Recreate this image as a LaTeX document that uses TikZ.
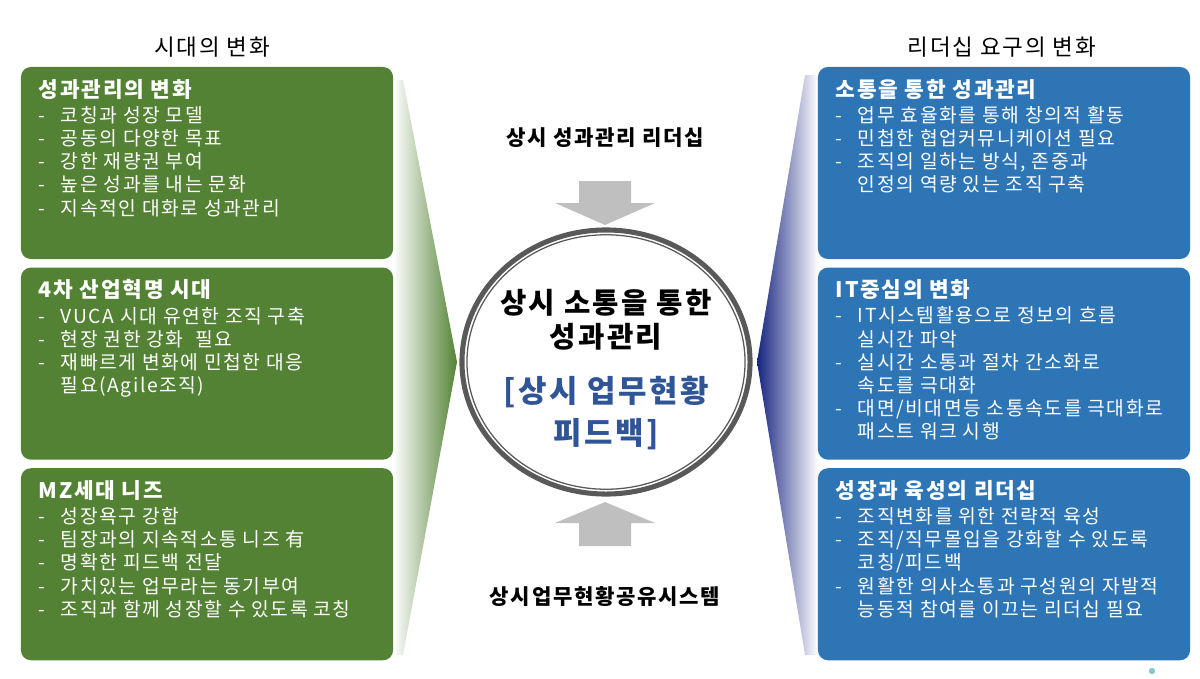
\documentclass[tikz,border=0pt]{standalone}
\usepackage{fontspec}
\setmainfont{Noto Sans CJK KR}[LetterSpace=8]
\usetikzlibrary{positioning,shapes.geometric}

\definecolor{eragreen}{RGB}{84,130,53}
\definecolor{leadblue}{RGB}{46,117,182}
\definecolor{ringgray}{RGB}{89,89,89}
\definecolor{arrowgray}{RGB}{191,191,191}
\definecolor{notebluetext}{RGB}{47,85,151}
\definecolor{wedgenavy}{RGB}{22,36,128}

\newcommand{\dashitem}[1]{\makebox[0.55cm][l]{-}#1}
\newcommand{\contitem}[1]{\hspace*{0.55cm}#1}
\newcommand{\boxhead}[1]{{\bfseries\fontsize{15.2}{16.5}\selectfont #1}}

\tikzset{
  greenbox/.style={fill=eragreen, rounded corners=0.25cm, minimum width=9.3cm, minimum height=4.8cm, inner sep=0},
  bluebox/.style={fill=leadblue, rounded corners=0.25cm, minimum width=9.3cm, minimum height=4.8cm, inner sep=0},
  boxtext/.style={text=white, align=left, inner sep=0, anchor=north west, font=\fontsize{13.7}{16.5}\selectfont},
  heading/.style={font=\fontsize{16}{19}\selectfont},
  pillar/.style={font=\bfseries\fontsize{15}{18}\selectfont},
  hubtitle/.style={align=center, font=\bfseries\fontsize{20.4}{24}\selectfont},
  hubnote/.style={align=center, text=notebluetext, font=\bfseries\fontsize{22}{30.5}\selectfont},
}

\begin{document}
\begin{tikzpicture}[x=0.025cm, y=-0.025cm]
\useasboundingbox (0,0) rectangle (1200,678);

% wedges behind the boxes
\shade[left color=white, right color=eragreen] (393,80) -- (403,80) -- (457,362) -- (403,655) -- (393,655) -- cycle;
\shade[left color=wedgenavy, right color=white] (757,362) -- (805,75) -- (818,75) -- (818,655) -- (805,655) -- cycle;

% column headings
\node[heading] (eratitle) at (212,47) {시대의 변화};
\node[heading] (leadtitle) at (1002,47) {리더십 요구의 변화};

% left column
\node[greenbox] (era1) at (207,163) {};
\node[greenbox, below=0.2cm of era1] (era2) {};
\node[greenbox, below=0.2cm of era2] (era3) {};

\node[boxtext] (era1txt) at ([xshift=0.45cm,yshift=-0.3cm]era1.north west) {%
  \boxhead{성과관리의 변화}\\[1.5pt]
  \dashitem{코칭과 성장 모델}\\
  \dashitem{공동의 다양한 목표}\\
  \dashitem{강한 재량권 부여}\\
  \dashitem{높은 성과를 내는 문화}\\
  \dashitem{지속적인 대화로 성과관리}};
\node[boxtext] (era2txt) at ([xshift=0.45cm,yshift=-0.3cm]era2.north west) {%
  \boxhead{4차 산업혁명 시대}\\[1.5pt]
  \dashitem{VUCA 시대 유연한 조직 구축}\\
  \dashitem{현장 권한 강화\ \ 필요}\\
  \dashitem{재빠르게 변화에 민첩한 대응}\\
  \contitem{필요(Agile조직)}};
\node[boxtext] (era3txt) at ([xshift=0.45cm,yshift=-0.3cm]era3.north west) {%
  \boxhead{MZ세대 니즈}\\[1.5pt]
  \dashitem{성장욕구 강함}\\
  \dashitem{팀장과의 지속적소통 니즈 有}\\
  \dashitem{명확한 피드백 전달}\\
  \dashitem{가치있는 업무라는 동기부여}\\
  \dashitem{조직과 함께 성장할 수 있도록 코칭}};

% right column
\node[bluebox] (lead1) at (1004,163) {};
\node[bluebox, below=0.2cm of lead1] (lead2) {};
\node[bluebox, below=0.2cm of lead2] (lead3) {};

\node[boxtext] (lead1txt) at ([xshift=0.45cm,yshift=-0.3cm]lead1.north west) {%
  \boxhead{소통을 통한 성과관리}\\[1.5pt]
  \dashitem{업무 효율화를 통해 창의적 활동}\\
  \dashitem{민첩한 협업커뮤니케이션 필요}\\
  \dashitem{조직의 일하는 방식, 존중과}\\
  \contitem{인정의 역량 있는 조직 구축}};
\node[boxtext] (lead2txt) at ([xshift=0.45cm,yshift=-0.3cm]lead2.north west) {%
  \boxhead{IT중심의 변화}\\[1.5pt]
  \dashitem{IT시스템활용으로 정보의 흐름}\\
  \contitem{실시간 파악}\\
  \dashitem{실시간 소통과 절차 간소화로}\\
  \contitem{속도를 극대화}\\
  \dashitem{대면/비대면등 소통속도를 극대화로}\\
  \contitem{패스트 워크 시행}};
\node[boxtext] (lead3txt) at ([xshift=0.45cm,yshift=-0.3cm]lead3.north west) {%
  \boxhead{성장과 육성의 리더십}\\[1.5pt]
  \dashitem{조직변화를 위한 전략적 육성}\\
  \dashitem{조직/직무몰입을 강화할 수 있도록}\\
  \contitem{코칭/피드백}\\
  \dashitem{원활한 의사소통과 구성원의 자발적}\\
  \contitem{능동적 참여를 이끄는 리더십 필요}};

% centre ring
\node[ellipse, draw=ringgray, line width=3.6pt, minimum width=7.2cm, minimum height=6.6cm] (hub) at (606,362) {};
\node[ellipse, draw=ringgray, line width=0.9pt, minimum width=6.95cm, minimum height=6.36cm] (hubinner) at (hub) {};
\node[hubtitle] (hubtop) at (606,320) {상시 소통을 통한\\성과관리};
\node[hubnote] (hubbottom) at (606,413) {[상시 업무현황\\피드백]};

% pillars above and below
\node[pillar] (toplabel) at (605,138) {상시 성과관리 리더십};
\node[pillar] (bottomlabel) at (605,597) {상시업무현황공유시스템};
\fill[arrowgray] (579,181) -- (631,181) -- (631,203) -- (655,203) -- (605,225) -- (555,203) -- (579,203) -- cycle;
\fill[arrowgray] (605,502) -- (655,523) -- (631,523) -- (631,546) -- (579,546) -- (579,523) -- (555,523) -- cycle;

\fill[teal!45] (1152,671) circle (0.08cm);
\end{tikzpicture}
\end{document}
